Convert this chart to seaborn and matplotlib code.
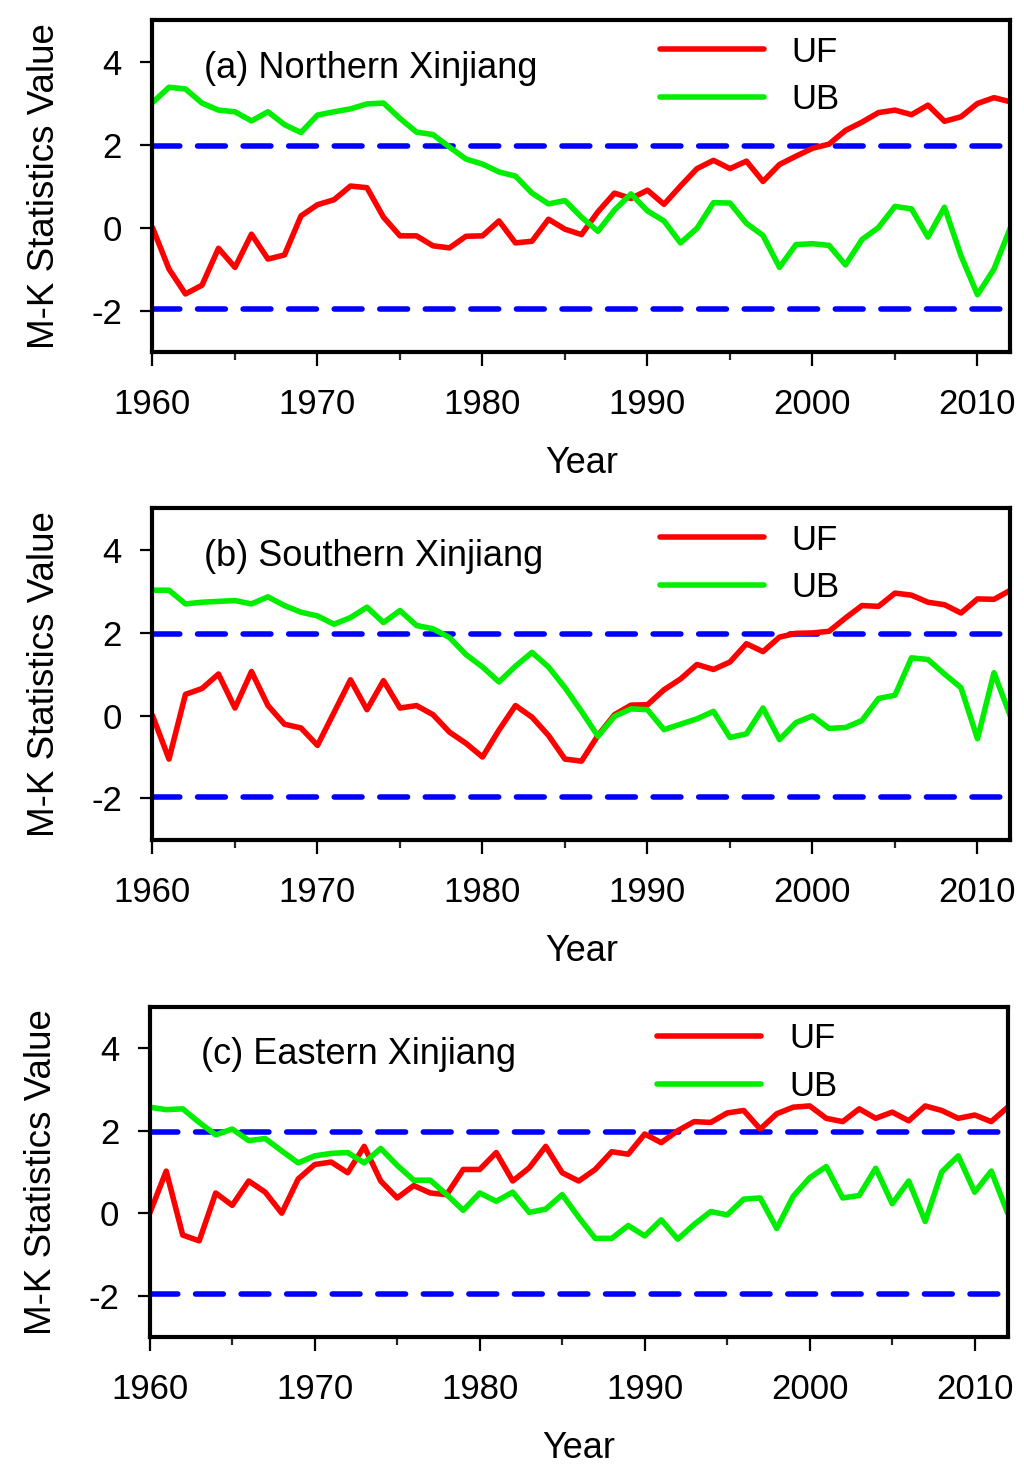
import matplotlib
matplotlib.use("Agg")
import matplotlib.pyplot as plt
import numpy as np
import pandas as pd
import seaborn as sns
from matplotlib.ticker import MultipleLocator

# Years of the Mann-Kendall test
years = list(range(1960, 2013))

# (a) Northern Xinjiang
uf_north = [0, -1.0, -1.6, -1.39, -0.5, -0.96, -0.16, -0.76, -0.66, 0.28,
            0.55, 0.67, 1.0, 0.96, 0.25, -0.2, -0.2, -0.44, -0.49, -0.21,
            -0.2, 0.16, -0.37, -0.33, 0.2, -0.04, -0.17, 0.38, 0.83, 0.7,
            0.9, 0.56, 1.0, 1.42, 1.62, 1.42, 1.6, 1.11, 1.52, 1.72,
            1.91, 2.01, 2.34, 2.54, 2.77, 2.83, 2.72, 2.95, 2.56, 2.67,
            2.99, 3.13, 3.03]
ub_north = [3.01, 3.38, 3.34, 3.0, 2.83, 2.79, 2.57, 2.79, 2.48, 2.29,
            2.71, 2.79, 2.86, 2.98, 3.0, 2.63, 2.3, 2.24, 1.94, 1.65,
            1.53, 1.34, 1.24, 0.83, 0.57, 0.65, 0.25, -0.09, 0.42, 0.81,
            0.4, 0.16, -0.37, -0.02, 0.6, 0.59, 0.1, -0.19, -0.96, -0.41,
            -0.39, -0.43, -0.9, -0.29, 0.0, 0.51, 0.45, -0.23, 0.49, -0.68,
            -1.62, -1.0, 0.0]

# (b) Southern Xinjiang
uf_south = [0, -1.05, 0.51, 0.65, 1.0, 0.18, 1.06, 0.24, -0.21, -0.3,
            -0.72, 0.07, 0.86, 0.14, 0.84, 0.18, 0.24, 0.02, -0.4, -0.67,
            -1.0, -0.35, 0.24, -0.04, -0.48, -1.05, -1.1, -0.48, 0.02, 0.25,
            0.26, 0.62, 0.88, 1.23, 1.11, 1.29, 1.73, 1.54, 1.89, 1.98,
            1.99, 2.03, 2.35, 2.65, 2.63, 2.95, 2.9, 2.73, 2.67, 2.47,
            2.81, 2.8, 3.02]
ub_south = [3.02, 3.02, 2.69, 2.73, 2.75, 2.77, 2.69, 2.86, 2.65, 2.49,
            2.4, 2.2, 2.36, 2.61, 2.24, 2.53, 2.17, 2.09, 1.88, 1.47,
            1.17, 0.81, 1.19, 1.52, 1.17, 0.67, 0.1, -0.5, -0.02, 0.16,
            0.14, -0.34, -0.21, -0.08, 0.1, -0.53, -0.44, 0.18, -0.58, -0.17,
            -0.01, -0.31, -0.29, -0.12, 0.41, 0.49, 1.39, 1.35, 1.0, 0.67,
            -0.56, 1.03, -0.02]

# (c) Eastern Xinjiang
uf_east = [0, 1.02, -0.53, -0.67, 0.49, 0.19, 0.78, 0.51, 0, 0.83,
           1.18, 1.24, 0.98, 1.62, 0.78, 0.37, 0.67, 0.49, 0.45, 1.06,
           1.06, 1.47, 0.78, 1.1, 1.62, 0.98, 0.78, 1.06, 1.49, 1.43,
           1.92, 1.71, 2.0, 2.22, 2.2, 2.43, 2.49, 2.04, 2.41, 2.57,
           2.6, 2.3, 2.22, 2.53, 2.3, 2.45, 2.24, 2.6, 2.49, 2.3,
           2.38, 2.22, 2.57]
ub_east = [2.57, 2.51, 2.53, 2.2, 1.9, 2.04, 1.76, 1.81, 1.51, 1.22,
           1.39, 1.45, 1.47, 1.22, 1.57, 1.16, 0.8, 0.8, 0.45, 0.07,
           0.49, 0.29, 0.51, 0.02, 0.1, 0.45, -0.1, -0.61, -0.61, -0.3,
           -0.55, -0.16, -0.63, -0.27, 0.04, -0.04, 0.34, 0.37, -0.37, 0.41,
           0.86, 1.13, 0.37, 0.43, 1.09, 0.23, 0.78, -0.2, 1.0, 1.39,
           0.51, 1.02, 0.0]

titles = ["(a) Northern Xinjiang", "(b) Southern Xinjiang", "(c) Eastern Xinjiang"]
uf_all = [uf_north, uf_south, uf_east]
ub_all = [ub_north, ub_south, ub_east]
critical = 1.96

sns.set_theme(style="white")
plt.rcParams["font.family"] = ["Liberation Sans", "DejaVu Sans"]
plt.rcParams["axes.unicode_minus"] = False
plt.rcParams["text.color"] = "black"
plt.rcParams["axes.labelcolor"] = "black"

fig = plt.figure(figsize=(10.24, 14.76), dpi=100)
# axes boxes in figure fractions (left, bottom, width, height)
boxes = [
    (0.1489, 0.7615, 0.8379, 0.2249),
    (0.1489, 0.4309, 0.8379, 0.2249),
    (0.1462, 0.0942, 0.8379, 0.2236),
]

for i in range(3):
    ax = fig.add_axes(boxes[i])
    df = pd.DataFrame({"year": years, "UF": uf_all[i], "UB": ub_all[i]})
    sns.lineplot(data=df, x="year", y="UF", ax=ax, color="#ff0000", label="UF")
    sns.lineplot(data=df, x="year", y="UB", ax=ax, color="#00ee00", label="UB")
    for line in ax.get_lines():
        line.set_linewidth(4.0)
        line.set_solid_joinstyle("round")
    for c in (critical, -critical):
        ax.axhline(c, color="#0000ff", linewidth=4.0, dashes=(5.0, 3.2),
                   dash_capstyle="round", zorder=1)

    ax.set_xlim(1960, 2012)
    ax.set_ylim(-3, 5)
    ax.set_yticks([-2, 0, 2, 4])
    ax.xaxis.set_major_locator(MultipleLocator(10))
    ax.xaxis.set_minor_locator(MultipleLocator(5))
    ax.tick_params(axis="x", which="major", direction="out", length=10, width=1.6,
                   labelsize=25, pad=16, bottom=True, colors="black")
    ax.tick_params(axis="x", which="minor", direction="out", length=5.5, width=1.6, bottom=True)
    ax.tick_params(axis="y", direction="out", length=9, width=1.6, labelsize=25, pad=13,
                   left=True, colors="black")
    for s in ax.spines.values():
        s.set_linewidth(3)
        s.set_color("black")

    ax.set_xlabel("Year", fontsize=26, labelpad=18)
    ax.set_ylabel("M-K Statistics Value", fontsize=26.5, labelpad=21)
    ax.text(0.06, 0.855, titles[i], transform=ax.transAxes, fontsize=26,
            va="center", ha="left")
    leg = ax.legend(loc="upper left", bbox_to_anchor=(0.575, 0.995), frameon=False,
                    fontsize=25, handlelength=3.0, handletextpad=0.8, labelspacing=0.42,
                    borderaxespad=0)
    for h in leg.get_lines():
        h.set_linewidth(4.0)

fig.savefig("out.png", dpi=100)
